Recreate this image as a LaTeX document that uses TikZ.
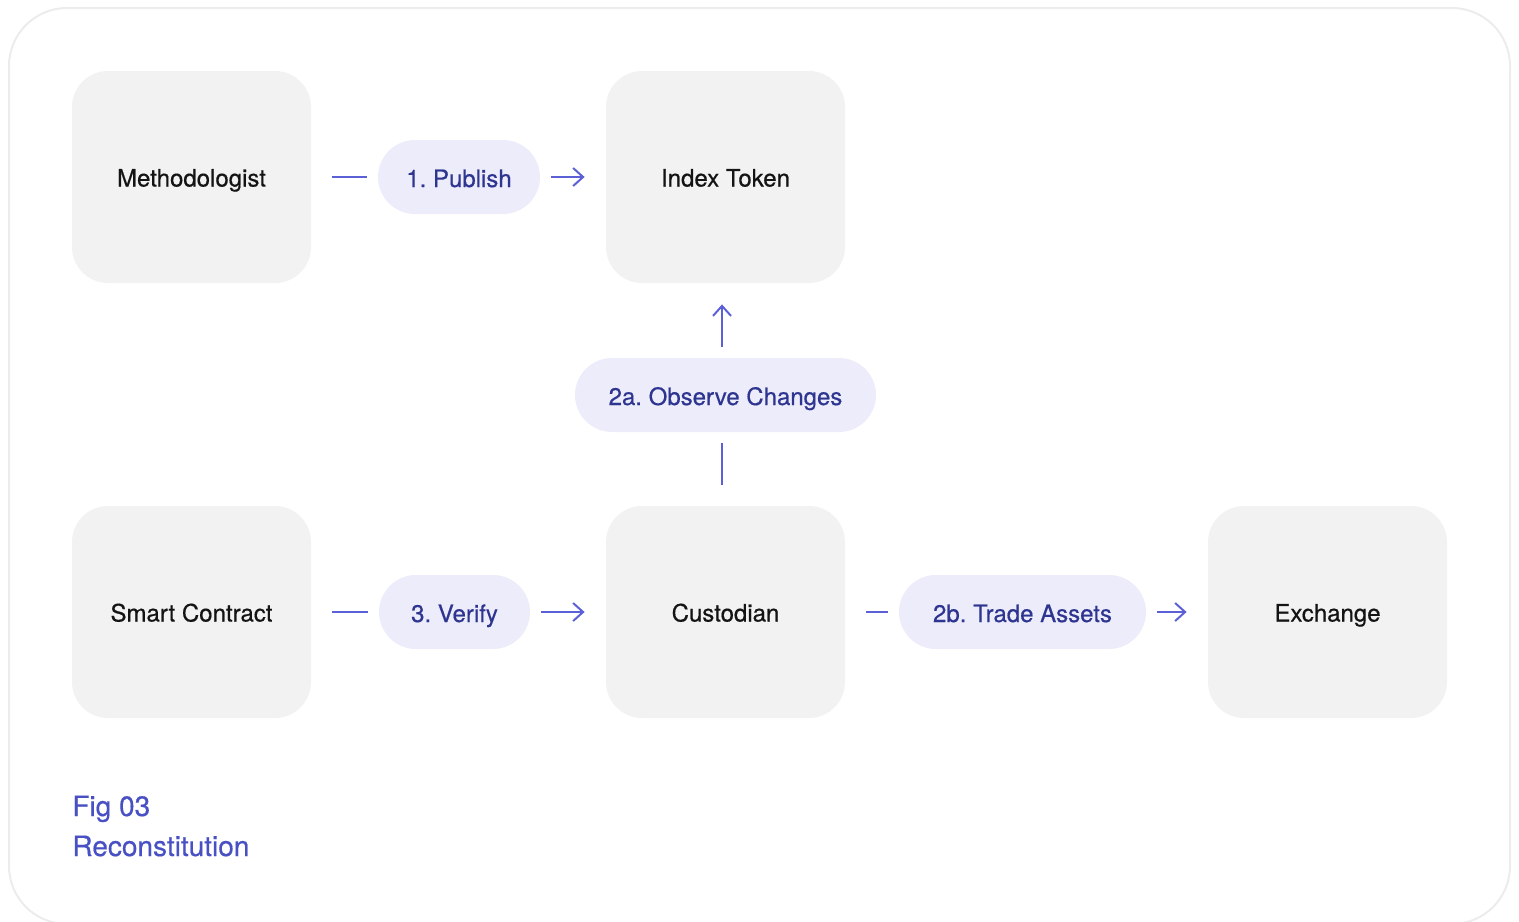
\documentclass[tikz,border=0pt]{standalone}
\usepackage{fontspec}
\setmainfont{TeX Gyre Heros}[FakeBold=0.5]
\usepackage{tikz}
\usetikzlibrary{arrows.meta}
\definecolor{boxgray}{RGB}{242, 242, 242}
\definecolor{pillfill}{RGB}{236, 236, 250}
\definecolor{pilltext}{RGB}{46, 53, 145}
\definecolor{arrowblue}{RGB}{91, 96, 214}
\definecolor{figblue}{RGB}{72, 80, 196}
\definecolor{framegray}{RGB}{236, 236, 236}
\frenchspacing

\begin{document}
\begin{tikzpicture}[x=0.5pt, y=-0.5pt,
    box/.style={fill=boxgray, rounded corners=18pt, minimum width=119.5pt,
      minimum height=106pt, text height=9.5pt, text depth=0pt,
      text=black!92, font=\fontsize{12}{14}\selectfont},
    tag/.style={fill=pillfill, rounded corners=18.5pt, minimum height=37pt,
      text height=10pt, text depth=0pt, inner xsep=0pt, text=pilltext,
      font=\fontsize{12}{14}\selectfont},
    link/.style={draw=arrowblue, line width=1pt, shorten <=10.5pt, shorten >=5.5pt},
    flowto/.style={draw=arrowblue, line width=1pt, -{Straight Barb[length=5pt, width=9pt]},
      shorten <=5.5pt, shorten >=10.5pt}]

  \useasboundingbox (0, 0) rectangle (1519, 921);
  \clip (0, 0) rectangle (1519, 921);
  \draw[framegray, line width=1pt, rounded corners=29pt] (9, 8) rectangle (1510, 924);

  % the five actors
  \foreach \name/\x/\y/\txt in {meth/191.5/177/Methodologist, index/725.5/177/Index Token,
      smart/191.5/612/Smart Contract, cust/725.5/612/Custodian, exch/1327.5/612/Exchange} {
    \node[box] (\name) at (\x, \y) {\txt};
  }

  % the steps between them
  \foreach \name/\x/\y/\w/\txt in {pub/459/177/81/1. Publish, obs/725.5/395/150.5/2a. Observe Changes,
      ver/454.5/612/75.5/3. Verify, trade/1022.5/612/123.5/2b. Trade Assets} {
    \node[tag, minimum width=\w pt] (\name) at (\x, \y) {\txt};
  }

  \foreach \a/\b in {meth/pub, smart/ver, cust/trade} {
    \draw[link] (\a) -- (\b);
  }
  \foreach \a/\b in {pub/index, ver/cust, trade/exch} {
    \draw[flowto] (\a) -- (\b);
  }
  % vertical step sits a little left of centre
  \draw[link] ([xshift=-1.75pt]cust.north) -- ([xshift=-1.75pt]obs.south);
  \draw[flowto] ([xshift=-1.75pt]obs.north) -- ([xshift=-1.75pt]index.south);

  \node[anchor=base west, inner sep=0pt, text=figblue, font=\fontsize{14}{20}\selectfont]
    (fig) at (72, 816) {Fig 03};
  \node[anchor=base west, inner sep=0pt, text=figblue, font=\fontsize{14}{20}\selectfont]
    (title) at (72, 856) {Reconstitution};

\end{tikzpicture}
\end{document}
